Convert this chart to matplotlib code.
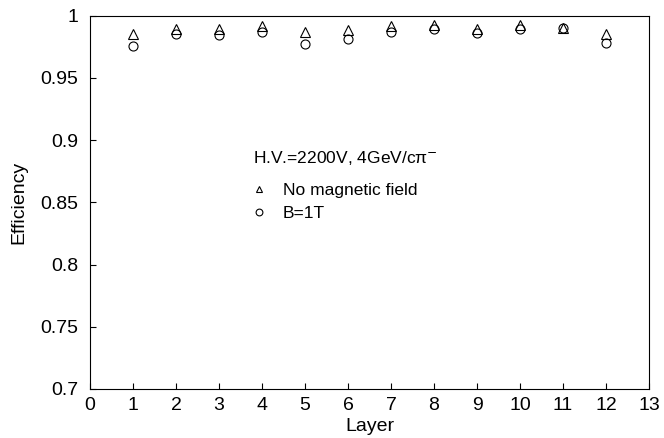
import matplotlib
matplotlib.use("Agg")
import matplotlib.pyplot as plt

plt.rcParams['font.family'] = ['Liberation Sans', 'DejaVu Sans']

layers = [1, 2, 3, 4, 5, 6, 7, 8, 9, 10, 11, 12]
eff_no_field = [0.9855, 0.9892, 0.9890, 0.9920, 0.9868, 0.9882, 0.9915, 0.9925, 0.9890, 0.9925, 0.9905, 0.9853]
eff_b1t = [0.9755, 0.9850, 0.9842, 0.9868, 0.9773, 0.9812, 0.9870, 0.9890, 0.9865, 0.9890, 0.9905, 0.9778]

fig = plt.figure(figsize=(6.64, 4.38), dpi=100)
ax = fig.add_axes([0.1355, 0.112, 0.842, 0.852])

ax.plot(layers, eff_no_field, linestyle='none', marker='^', markersize=6.5,
        markerfacecolor='none', markeredgecolor='black', markeredgewidth=0.8,
        label='No magnetic field')
ax.plot(layers, eff_b1t, linestyle='none', marker='o', markersize=6.5,
        markerfacecolor='none', markeredgecolor='black', markeredgewidth=0.8,
        label='B=1T')

ax.set_xlim(0, 13)
ax.set_ylim(0.7, 1.0)
ax.set_xticks(range(0, 14))
ax.set_yticks([0.7, 0.75, 0.8, 0.85, 0.9, 0.95, 1.0])
ax.set_yticklabels(['0.7', '0.75', '0.8', '0.85', '0.9', '0.95', '1'])
ax.tick_params(direction='in', length=4, width=0.8, labelsize=14)
ax.tick_params(axis='x', pad=5.5)
ax.tick_params(axis='y', pad=8.5)
ax.set_xlabel('Layer', fontsize=14, labelpad=3)
ax.set_ylabel('Efficiency', fontsize=14, labelpad=9)
for s in ax.spines.values():
    s.set_linewidth(0.8)

leg = ax.legend(title='H.V.=2200V, 4GeV/cπ$^{-}$', loc='upper left',
                bbox_to_anchor=(0.292, 0.643), frameon=False, fontsize=12.5,
                title_fontsize=12.5, borderpad=0, borderaxespad=0,
                handlelength=0.7, handletextpad=1.0, labelspacing=0.43,
                markerscale=0.75)
leg._legend_box.align = 'left'
leg._legend_box.sep = 11.5

fig.savefig('out.png', dpi=100)
